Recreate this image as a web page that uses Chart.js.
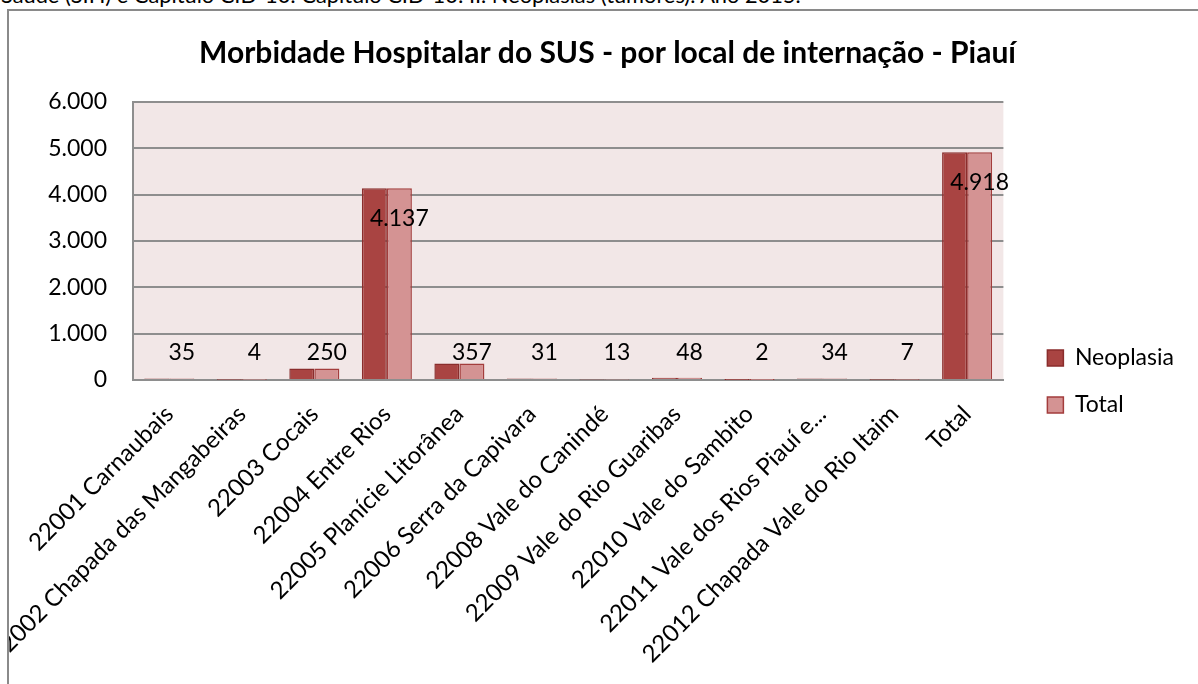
<!DOCTYPE html>
<html>
<head>
<meta charset="utf-8">
<script src="https://cdn.jsdelivr.net/npm/chart.js@4.4.1/dist/chart.umd.min.js"></script>
<style>
  html, body { margin: 0; padding: 0; background: #fff; overflow: hidden; width: 1198px; height: 684px; }
  #caption { position: absolute; left: 1px; top: -16px; font-family: Lato, sans-serif; font-size: 21.8px; line-height: 21.8px; white-space: nowrap; color: #000; }
  #frame { position: absolute; left: 7px; top: 9px; border-left: 2px solid #8a8a8a; border-top: 2px solid #8a8a8a; }
  #box { position: relative; width: 1197px; height: 741px; }
</style>
</head>
<body>
<div id="caption">Saúde (SIH) e Capítulo CID-10: Capítulo CID-10: II. Neoplasias (tumores). Ano 2015.</div>
<div id="frame"><div id="box"><canvas id="morbChart"></canvas></div></div>
<script>
const categories = [
    '22001 Carnaubais',
    '22002 Chapada das Mangabeiras',
    '22003 Cocais',
    '22004 Entre Rios',
    '22005 Planície Litorânea',
    '22006 Serra da Capivara',
    '22008 Vale do Canindé',
    '22009 Vale do Rio Guaribas',
    '22010 Vale do Sambito',
    '22011 Vale dos Rios Piauí e...',
    '22012 Chapada Vale do Rio Itaim',
    'Total'
];
const neoplasiaValues = [35, 4, 250, 4137, 357, 31, 13, 48, 2, 34, 7, 4918];
const totalValues = [35, 4, 250, 4137, 357, 31, 13, 48, 2, 34, 7, 4918];
const yMin = 0, yMax = 6000, yStep = 1000;

const FONT = 'Lato';
// separador de milhar com ponto (pt-BR)
const fmt = v => String(v).replace(/\B(?=(\d{3})+(?!\d))/g, '.');

// fundo rosado da área de plotagem
const plotBg = {
    id: 'plotBg',
    beforeDraw(chart) {
        const { ctx, chartArea: a } = chart;
        ctx.save();
        ctx.fillStyle = '#f2e7e7';
        ctx.fillRect(a.left, a.top, a.right - a.left, a.bottom - a.top);
        ctx.restore();
    }
};

// rótulos de valor na série Total
const valueLabels = {
    id: 'valueLabels',
    afterDatasetsDraw(chart) {
        const { ctx } = chart;
        const meta = chart.getDatasetMeta(1);
        ctx.save();
        ctx.font = `23px ${FONT}`;
        ctx.fillStyle = '#000';
        ctx.textAlign = 'center';
        ctx.textBaseline = 'middle';
        meta.data.forEach((bar, i) => {
            const h = bar.base - bar.y;
            const y = h > 60 ? bar.y + 30 : bar.base - 26;
            ctx.fillText(fmt(totalValues[i]), bar.x, y);
        });
        ctx.restore();
    }
};

const ctx = document.getElementById('morbChart').getContext('2d');
const morbChart = new Chart(ctx, {
    type: 'bar',
    data: {
        labels: categories,
        datasets: [
            {
                label: 'Neoplasia',
                data: neoplasiaValues,
                backgroundColor: '#a94442',
                borderColor: '#8a2d2c',
                borderWidth: 1.5,
                categoryPercentage: 0.69,
                barPercentage: 1.0
            },
            {
                label: 'Total',
                data: totalValues,
                backgroundColor: '#d49393',
                borderColor: '#a33d3c',
                borderWidth: 1.5,
                categoryPercentage: 0.69,
                barPercentage: 1.0
            }
        ]
    },
    options: {
        responsive: true,
        maintainAspectRatio: false,
        animation: false,
        layout: { padding: 0 },
        plugins: {
            title: {
                display: true,
                text: 'Morbidade Hospitalar do SUS - por local de internação - Piauí',
                color: '#000',
                font: { family: FONT, size: 30, weight: 'bold' },
                padding: { top: 24, bottom: 31 }
            },
            legend: {
                position: 'right',
                labels: {
                    color: '#000',
                    font: { family: FONT, size: 23 },
                    boxWidth: 16,
                    boxHeight: 16,
                    padding: 24
                }
            },
            tooltip: { enabled: false }
        },
        scales: {
            x: {
                grid: { display: false },
                border: { display: true, color: '#8e8e8e', width: 2 },
                ticks: {
                    color: '#000',
                    font: { family: FONT, size: 24 },
                    autoSkip: false,
                    maxRotation: 45,
                    minRotation: 45,
                    padding: 12
                },
                afterFit: s => { s.height = 372; s.paddingLeft = 0; s.paddingRight = 0; }
            },
            y: {
                min: yMin,
                max: yMax,
                grid: { color: '#8e8e8e', lineWidth: 2, drawTicks: false },
                border: { display: true, color: '#8e8e8e', width: 2 },
                ticks: {
                    stepSize: yStep,
                    color: '#000',
                    font: { family: FONT, size: 23 },
                    padding: 26,
                    callback: v => fmt(v)
                },
                afterFit: s => { s.width = 124; }
            },
            // espaço entre a área de plotagem e a legenda
            gap: {
                type: 'linear',
                position: 'right',
                display: true,
                grid: { display: false },
                border: { display: false },
                ticks: { display: false },
                afterFit: s => { s.width = 20; }
            },
            // margem à direita da legenda
            outer: {
                type: 'linear',
                position: 'right',
                weight: 2000,
                display: true,
                grid: { display: false },
                border: { display: false },
                ticks: { display: false },
                afterFit: s => { s.width = 33; }
            }
        }
    },
    plugins: [plotBg, valueLabels]
});
</script>
</body>
</html>
